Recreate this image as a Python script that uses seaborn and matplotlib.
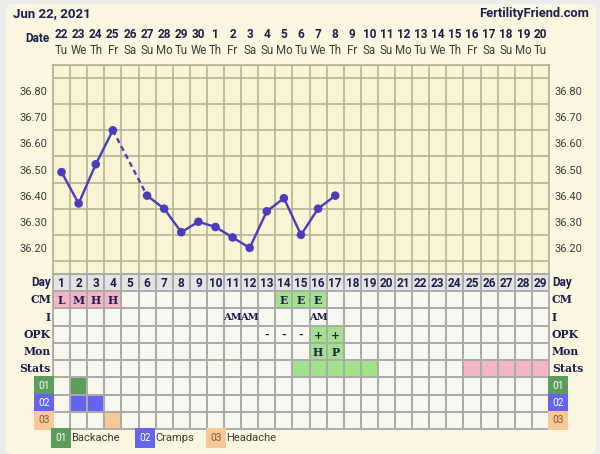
import numpy as np
import pandas as pd
import matplotlib
matplotlib.use('Agg')
import matplotlib.pyplot as plt
import matplotlib.transforms as mtransforms
from matplotlib.colors import ListedColormap
from matplotlib.patches import FancyBboxPatch
import seaborn as sns

# ---- data ----
title = 'Jun 22, 2021'
site = 'FertilityFriend.com'
cycle_days = list(range(1, 30))
dates = [22, 23, 24, 25, 26, 27, 28, 29, 30, 1, 2, 3, 4, 5, 6, 7, 8, 9, 10,
         11, 12, 13, 14, 15, 16, 17, 18, 19, 20]
weekdays = ['Tu', 'We', 'Th', 'Fr', 'Sa', 'Su', 'Mo',
            'Tu', 'We', 'Th', 'Fr', 'Sa', 'Su', 'Mo',
            'Tu', 'We', 'Th', 'Fr', 'Sa', 'Su', 'Mo',
            'Tu', 'We', 'Th', 'Fr', 'Sa', 'Su', 'Mo', 'Tu']
temp_days = list(range(1, 18))
temps = [36.49, 36.37, 36.52, 36.65, np.nan, 36.40, 36.35, 36.26, 36.30,
         36.28, 36.24, 36.20, 36.34, 36.39, 36.25, 36.35, 36.40]
temp_ticks = [36.20, 36.30, 36.40, 36.50, 36.60, 36.70, 36.80]

cm_marks = {1: 'L', 2: 'M', 3: 'H', 4: 'H', 14: 'E', 15: 'E', 16: 'E'}
intercourse = {11: 'AM', 12: 'AM', 16: 'AM'}
opk = {13: '-', 14: '-', 15: '-', 16: '+', 17: '+'}
monitor = {16: 'H', 17: 'P'}
fertile_days = [15, 16, 17, 18, 19]
period_days = [25, 26, 27, 28, 29]
symptoms = ['Backache', 'Cramps', 'Headache']
symptom_codes = ['01', '02', '03']
symptom_days = [[2], [2, 3], [4]]

row_labels = ['Day', 'CM', 'I', 'OPK', 'Mon', 'Stats']

# ---- style ----
sns.set_style('white')
plt.rcParams['font.family'] = ['Roboto', 'DejaVu Sans']
navy = '#1d1d4f'
line_col = '#4a3cbc'
cream = '#fbf6df'
plot_bg = '#f9f4d3'
grid_col = '#b4b199'
cell_bg = '#f7f6ef'
day_bg = '#e4e4e2'
tab_line = '#ababa9'
pink = '#f4b5c7'
lgreen = '#a3e28c'
sym_cols = ['#5e9c5c', '#6464ee', '#f8c898']
sym_text = ['white', 'white', '#8a5a30']
serif = 'DejaVu Serif'

W, H = 600, 454
fig = plt.figure(figsize=(6, 4.54), dpi=100)
fig.patch.set_facecolor('#ececec')
bg = FancyBboxPatch((6 / W, 0), 590 / W, 450 / H,
                    boxstyle='round,pad=0,rounding_size=0.012',
                    transform=fig.transFigure, fc=cream, ec='none', zorder=-10)
fig.patches.append(bg)

left, right = 53 / W, 549 / W
tmp = fig.add_axes([left, 1 - 274 / H, right - left, 209 / H])
tab = fig.add_axes([left, 1 - 429 / H, right - left, 155 / H])

# ---- temperature chart ----
tmp.set_facecolor(plot_bg)
df = pd.DataFrame({'day': temp_days, 'temp': temps})
df['x'] = df['day'] - 0.5
df['segment'] = df['temp'].isna().cumsum()
pts = df.dropna()
sns.lineplot(data=pts, x='x', y='temp', units='segment', estimator=None,
             color=line_col, lw=1.7, ax=tmp, zorder=3)
# dashed bridge over the missing day
for s in sorted(pts['segment'].unique())[:-1]:
    a = pts[pts['segment'] == s].iloc[-1]
    b = pts[pts['segment'] > s].iloc[0]
    tmp.plot([a['x'], b['x']], [a['temp'], b['temp']], color=line_col,
             lw=1.7, ls=(0, (2.2, 1.6)), zorder=3)
sns.scatterplot(data=pts, x='x', y='temp', color=line_col, s=38,
                edgecolor='none', ax=tmp, zorder=4)

tmp.set_xlim(0, len(cycle_days))
tmp.set_ylim(36.10, 36.90)
tmp.set_xticks(range(len(cycle_days) + 1), minor=True)
tmp.set_xticks([])
tmp.set_yticks(np.arange(36.10, 36.901, 0.05), minor=True)
tmp.set_yticks(temp_ticks)
tmp.set_yticklabels([f'{t:.2f}' for t in temp_ticks])
tmp.tick_params(axis='y', which='both', length=0, left=True, right=True,
                labelleft=True, labelright=True, pad=4, labelsize=8,
                labelcolor='#3c3c3c')
tmp.grid(which='minor', color=grid_col, lw=1.2)
tmp.grid(which='major', visible=False)
tmp.set_xlabel('')
tmp.set_ylabel('')
for sp in tmp.spines.values():
    sp.set_color(grid_col)
    sp.set_linewidth(1.2)

# date header
top = mtransforms.blended_transform_factory(tmp.transData, fig.transFigure)
for i, (d, wd) in enumerate(zip(dates, weekdays)):
    tmp.text(i + 0.5, 1 - 35 / H, str(d), transform=top, ha='center',
             va='center', fontsize=8.5, fontweight='bold', color=navy)
    tmp.text(i + 0.5, 1 - 51 / H, wd, transform=top, ha='center',
             va='center', fontsize=8.3, color='#3a3a3a')
fig.text(50 / W, 1 - 39 / H, 'Date', ha='right', va='center',
         fontsize=8.5, fontweight='bold', color=navy)
fig.text(13 / W, 1 - 14 / H, title, ha='left', va='center',
         fontsize=9.5, fontweight='bold', color=navy)
fig.text(589 / W, 1 - 14 / H, site, ha='right', va='center',
         fontsize=9.3, fontweight='bold', color=navy)

# ---- chart table ----
n_rows = len(row_labels) + len(symptoms)
grid = np.zeros((n_rows, len(cycle_days)))
grid[0, :] = 1
for d in cm_marks:
    grid[1, d - 1] = 2 if d <= 4 else 3
for d, v in opk.items():
    if v == '+':
        grid[3, d - 1] = 3
for d in monitor:
    grid[4, d - 1] = 3
for d in fertile_days:
    grid[5, d - 1] = 3
for d in period_days:
    grid[5, d - 1] = 2
for k, days in enumerate(symptom_days):
    for d in days:
        grid[6 + k, d - 1] = 4 + k

cmap = ListedColormap([cell_bg, day_bg, pink, lgreen] + sym_cols)
sns.heatmap(grid, ax=tab, cmap=cmap, vmin=-0.5, vmax=6.5, cbar=False,
            linewidths=1.3, linecolor=tab_line, xticklabels=False,
            yticklabels=False)
for sp in tab.spines.values():
    sp.set_visible(True)
    sp.set_color(tab_line)
    sp.set_linewidth(1.3)

for i, d in enumerate(cycle_days):
    tab.text(i + 0.5, 0.55, str(d), ha='center', va='center', fontsize=8.5,
             fontweight='bold', color=navy)
for r, marks in [(1, cm_marks), (2, intercourse), (3, opk), (4, monitor)]:
    for d, v in marks.items():
        fs = 7.1 if len(v) > 1 else 7.8
        tab.text(d - 0.5, r + 0.55, v, ha='center', va='center',
                 fontsize=fs, fontweight='bold', family=serif, color=navy)

side = mtransforms.blended_transform_factory(fig.transFigure, tab.transData)
for r, lab in enumerate(row_labels):
    kw = dict(fontsize=8.5, fontweight='bold', color=navy) if r == 0 else \
        dict(fontsize=7.8, fontweight='bold', color=navy, family=serif)
    tab.text(51 / W, r + 0.5, lab, transform=side, ha='right', va='center', **kw)
    tab.text(552 / W, r + 0.5, lab, transform=side, ha='left', va='center', **kw)
for k, code in enumerate(symptom_codes):
    box = dict(boxstyle='square,pad=0.45', fc=sym_cols[k], ec='none')
    tab.text(44 / W, 6 + k + 0.5, code, transform=side, ha='center',
             va='center', fontsize=7.3, color=sym_text[k], bbox=box)
    tab.text(558 / W, 6 + k + 0.5, code, transform=side, ha='center',
             va='center', fontsize=7.3, color=sym_text[k], bbox=box)

# legend
leg_x = [61, 145, 216]
for k, (code, name) in enumerate(zip(symptom_codes, symptoms)):
    box = dict(boxstyle='square,pad=0.45', fc=sym_cols[k], ec='none')
    fig.text(leg_x[k] / W, 1 - 438 / H, code, ha='center', va='center',
             fontsize=7.3, color=sym_text[k], bbox=box)
    fig.text((leg_x[k] + 10) / W, 1 - 438 / H, name, ha='left', va='center',
             fontsize=8, color='#3a3a3a')

fig.savefig('out.png', dpi=100, facecolor=fig.get_facecolor())
